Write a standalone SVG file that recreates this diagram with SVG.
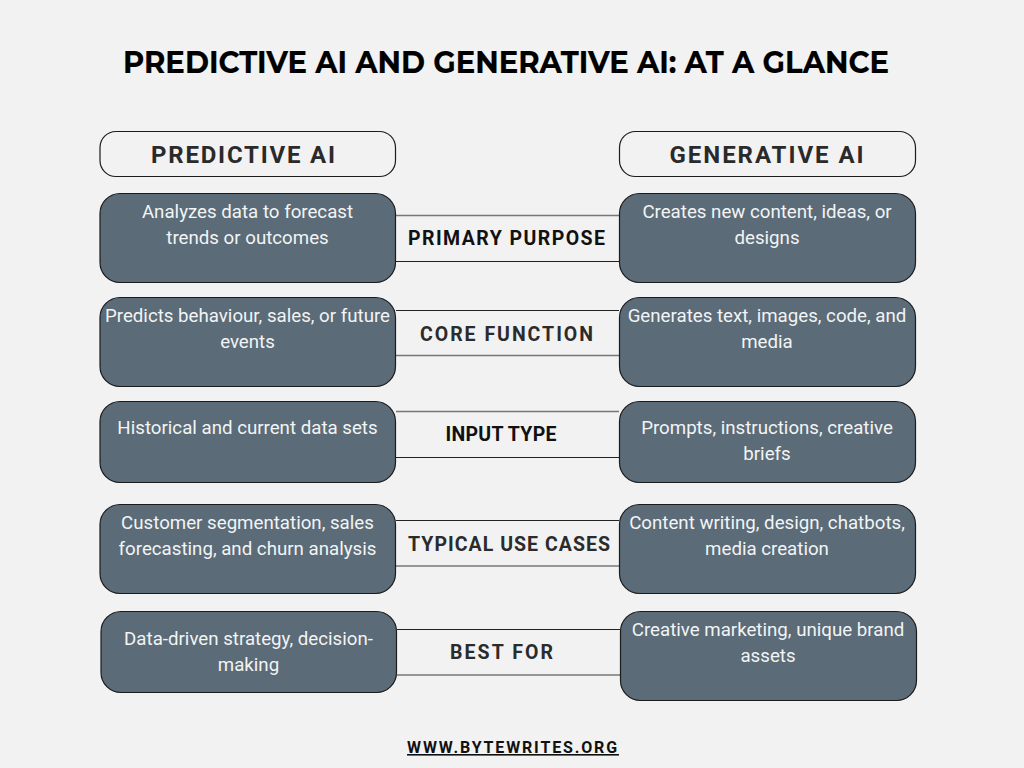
<svg xmlns="http://www.w3.org/2000/svg" width="1024" height="768" viewBox="0 0 1024 768">
<style>
text{font-family:Roboto,"Liberation Sans",sans-serif;text-anchor:middle}
.h{fill:#f2f2f2;stroke:#1c1c1c;stroke-width:1.2}
.b{fill:#5b6b77;stroke:#1c1c1c;stroke-width:1.2}
.ht{font-size:24px;font-weight:700;fill:#2a2a2a}
.bt{font-size:18.7px;fill:#f2f4f5}
.lt{font-size:19.500px;font-weight:700;fill:#2b2b2b}
.c1{stroke:#222;stroke-width:1.2;fill:none}
.c2{stroke:#777;stroke-width:1.6;fill:none}
</style>
<rect width="1024" height="768" fill="#f2f2f2"/>
<text x="506" y="72.500" style="font-family:Montserrat,'Open Sans','Liberation Sans',sans-serif;font-size:30px;font-weight:700;fill:#000;stroke:#000;stroke-width:.15" textLength="766" lengthAdjust="spacingAndGlyphs">PREDICTIVE AI AND GENERATIVE AI: AT A GLANCE</text>
<g id="connectors">
<path class="c2" d="M396 215.500H619"/><path class="c1" d="M396 261.500H619"/>
<path class="c1" d="M396 310.500H619"/><path class="c2" d="M396 355.500H619"/>
<path class="c2" d="M396 411.500H619"/><path class="c1" d="M396 457.500H619"/>
<path class="c1" d="M396 520.500H619"/><path class="c2" d="M396 566H619"/>
<path class="c1" d="M397 629.500H620"/><path class="c2" d="M397 675H620"/>
</g>
<g id="head-predictive"><rect class="h" x="100" y="131.500" width="295.500" height="45" rx="16"/><text class="ht" x="243" y="163" textLength="184">PREDICTIVE AI</text></g>
<g id="head-generative"><rect class="h" x="619.500" y="131.500" width="296" height="45" rx="16"/><text class="ht" x="766.500" y="163" textLength="194">GENERATIVE AI</text></g>
<g id="p1"><rect class="b" x="100" y="193.500" width="295.500" height="89" rx="20"/><text class="bt" x="247.500" y="218">Analyzes data to forecast</text><text class="bt" x="247.500" y="244">trends or outcomes</text></g>
<g id="g1"><rect class="b" x="619.500" y="193.500" width="296" height="89" rx="20"/><text class="bt" x="767" y="218">Creates new content, ideas, or</text><text class="bt" x="767" y="244">designs</text></g>
<g id="l1"><text class="lt" style="fill:#111" x="506.500" y="245" textLength="197">PRIMARY PURPOSE</text></g>
<g id="p2"><rect class="b" x="100" y="297.500" width="295.500" height="89" rx="20"/><text class="bt" x="247.500" y="322">Predicts behaviour, sales, or future</text><text class="bt" x="247.500" y="348">events</text></g>
<g id="g2"><rect class="b" x="619.500" y="297.500" width="296" height="89" rx="20"/><text class="bt" x="767" y="322">Generates text, images, code, and</text><text class="bt" x="767" y="348">media</text></g>
<g id="l2"><text class="lt" x="506.500" y="341" textLength="173">CORE FUNCTION</text></g>
<g id="p3"><rect class="b" x="100" y="401.500" width="295.500" height="81" rx="20"/><text class="bt" x="247.500" y="434">Historical and current data sets</text></g>
<g id="g3"><rect class="b" x="619.500" y="401.500" width="296" height="81" rx="20"/><text class="bt" x="767" y="434">Prompts, instructions, creative</text><text class="bt" x="767" y="460">briefs</text></g>
<g id="l3"><text class="lt" style="fill:#111" x="501" y="441" textLength="111">INPUT TYPE</text></g>
<g id="p4"><rect class="b" x="100" y="504.500" width="295.500" height="89" rx="20"/><text class="bt" x="247.500" y="529">Customer segmentation, sales</text><text class="bt" x="247.500" y="555">forecasting, and churn analysis</text></g>
<g id="g4"><rect class="b" x="619.500" y="504.500" width="296" height="89" rx="20"/><text class="bt" x="767" y="529">Content writing, design, chatbots,</text><text class="bt" x="767" y="555">media creation</text></g>
<g id="l4"><text class="lt" x="509" y="551" textLength="202">TYPICAL USE CASES</text></g>
<g id="p5"><rect class="b" x="101" y="611.500" width="295.500" height="81" rx="20"/><text class="bt" x="248.500" y="645">Data-driven strategy, decision-</text><text class="bt" x="248.500" y="671">making</text></g>
<g id="g5"><rect class="b" x="620.500" y="611.500" width="296" height="89" rx="20"/><text class="bt" x="768" y="636">Creative marketing, unique brand</text><text class="bt" x="768" y="662">assets</text></g>
<g id="l5"><text class="lt" x="501.500" y="659" textLength="103">BEST FOR</text></g>
<g id="footer"><text x="513" y="753" style="font-size:16px;font-weight:700;letter-spacing:1.85px;fill:#111;text-decoration:underline">WWW.BYTEWRITES.ORG</text></g>
</svg>
